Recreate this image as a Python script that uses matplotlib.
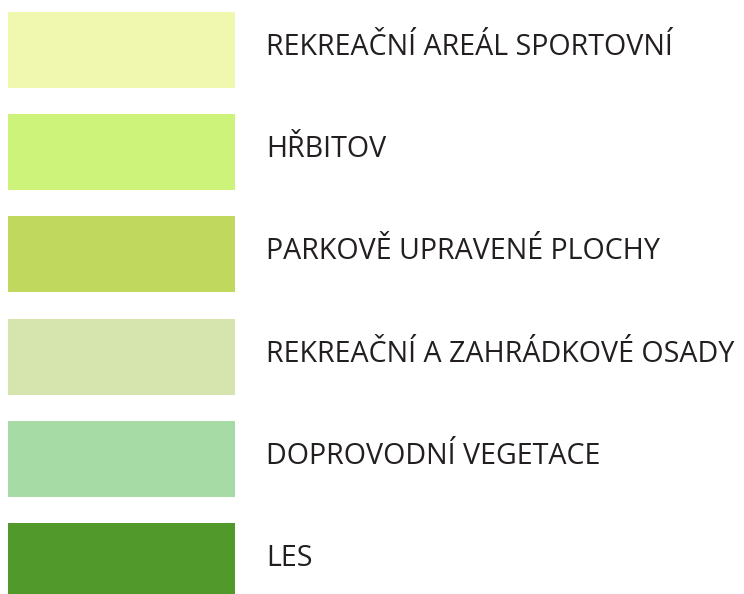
import matplotlib
matplotlib.use("Agg")
import matplotlib.pyplot as plt

categories = [
    "REKREAČNÍ AREÁL SPORTOVNÍ",
    "HŘBITOV",
    "PARKOVĚ UPRAVENÉ PLOCHY",
    "REKREAČNÍ A ZAHRÁDKOVÉ OSADY",
    "DOPROVODNÍ VEGETACE",
    "LES",
]
colors = ["#EFF8AE", "#CEF37B", "#C0D85D", "#D6E5AE", "#A7DBA5", "#50992A"]

W, H = 744, 594
fig = plt.figure(figsize=(W / 100, H / 100), dpi=100)
ax = fig.add_axes([0, 0, 1, 1])
step = 102.2
ypos = list(range(len(categories)))
ax.barh(ypos, [227] * len(categories), left=8, height=76 / step, color=colors)
for i, lab in enumerate(categories):
    ax.text(266, i + 5 / step, lab, fontsize=20.6, family="Open Sans",
            color="#231F20", va="baseline", ha="left")
ax.set_xlim(0, W)
ax.set_ylim((H - 50) / step, -50 / step)
ax.axis("off")
fig.savefig("out.png", dpi=100)
